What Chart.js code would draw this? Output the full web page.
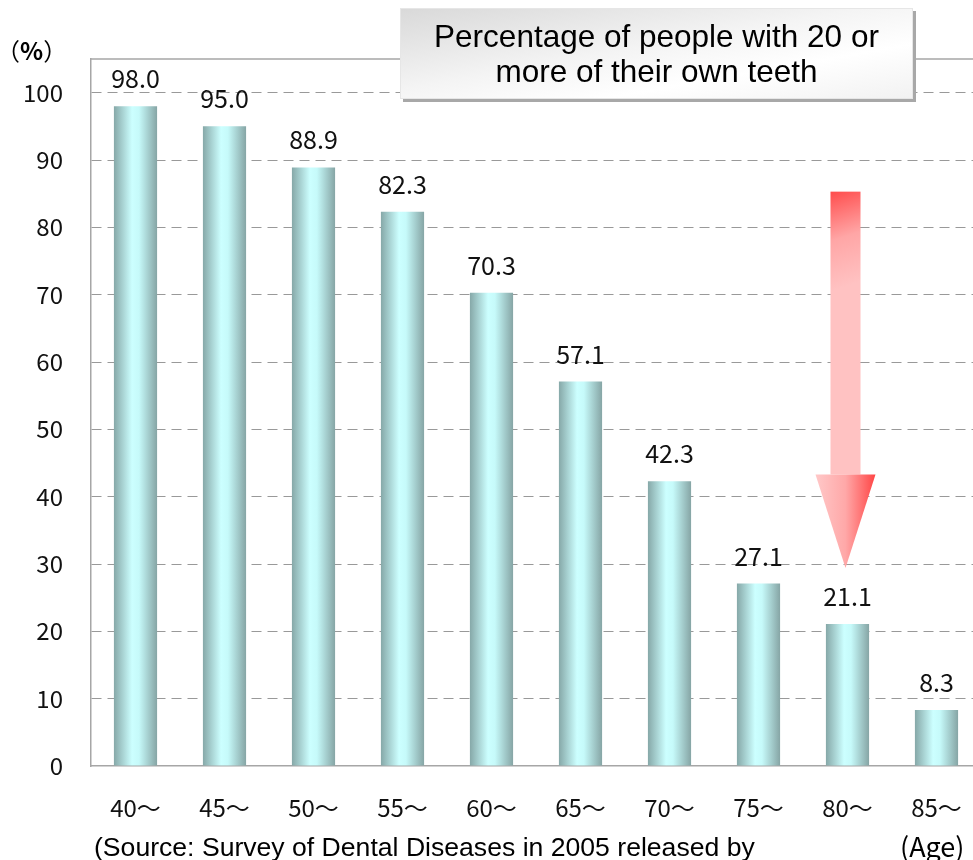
<!DOCTYPE html>
<html lang="en">
<head>
    <meta charset="UTF-8">
    <title>Percentage of people with 20 or more of their own teeth</title>
    <script src="https://cdn.jsdelivr.net/npm/chart.js"></script>
    <style>
        body { margin: 0; background: #fff; overflow: hidden; }
        #wrap { position: relative; width: 973px; height: 860px; overflow: hidden; }
        canvas { position: absolute; left: 0; top: 0; }
        .txt { position: absolute; white-space: nowrap; color: #000; }
        #unit { left: -4px; top: 32px; font: 24px "Noto Sans CJK JP", sans-serif; }
        #age { left: 900px; top: 826px; font: 27px "Noto Sans CJK JP", sans-serif; }
        #source { left: 94px; top: 832px; font: 26.6px "Liberation Sans", Arial, sans-serif; }
        #titleBox {
            position: absolute; left: 400px; top: 8px; width: 513px; height: 91px;
            background: linear-gradient(170deg, #d9d9d9 0%, #f4f4f4 45%, #ffffff 70%, #f2f2f2 100%);
            box-shadow: 3px 3px 0 #a8a8a8;
            border: 1px solid #e6e6e6;
            font: 31.5px "Liberation Sans", Arial, sans-serif; color: #000;
            text-align: center; line-height: 35px; padding-top: 10px; box-sizing: border-box;
        }
    </style>
</head>
<body>
<div id="wrap">
    <canvas id="teethChart" width="990" height="860"></canvas>
    <div id="titleBox">Percentage of people with 20 or<br>more of their own teeth</div>
    <div class="txt" id="unit">（<b>%</b>）</div>
    <div class="txt" id="age">(Age)</div>
    <div class="txt" id="source">(Source: Survey of Dental Diseases in 2005 released by</div>
</div>

<script>
    // age groups and share of people keeping 20+ teeth (%)
    const ageGroups = ['40〜', '45〜', '50〜', '55〜', '60〜', '65〜', '70〜', '75〜', '80〜', '85〜'];
    const teethPct = [98.0, 95.0, 88.9, 82.3, 70.3, 57.1, 42.3, 27.1, 21.1, 8.3];
    const yTicks = [0, 10, 20, 30, 40, 50, 60, 70, 80, 90, 100];
    // red arrow pointing at the 80〜 group (values on the y scale)
    const arrowGroup = 8;
    const arrowTop = 85.3, arrowHead = 43.3, arrowTip = 29.4;

    const numFont = '"Noto Sans CJK JP", "Noto Sans", sans-serif';
    const BAR_PCT = 0.485;

    function barGradient(c) {
        const chart = c.chart;
        const xs = chart.scales.x;
        if (!xs || !chart.chartArea) return '#b0dede';
        const cx = xs.getPixelForValue(c.dataIndex);
        const w = xs.width / ageGroups.length * BAR_PCT;
        const g = chart.ctx.createLinearGradient(cx - w / 2, 0, cx + w / 2, 0);
        g.addColorStop(0, '#86a8a8');
        g.addColorStop(0.42, '#ccffff');
        g.addColorStop(0.58, '#c6fafa');
        g.addColorStop(1, '#86a5a5');
        return g;
    }

    const extras = {
        id: 'extras',
        afterDatasetsDraw(chart) {
            const ctx = chart.ctx;
            const area = chart.chartArea;
            const xs = chart.scales.x, ys = chart.scales.y;

            // top border of plot area
            ctx.save();
            ctx.strokeStyle = '#a6a6a6';
            ctx.lineWidth = 1.5;
            ctx.beginPath();
            ctx.moveTo(area.left, area.top);
            ctx.lineTo(area.right, area.top);
            ctx.stroke();

            // value labels
            ctx.fillStyle = '#111';
            ctx.font = '25px ' + numFont;
            ctx.textAlign = 'center';
            ctx.textBaseline = 'alphabetic';
            chart.getDatasetMeta(0).data.forEach((bar, i) => {
                ctx.fillText(teethPct[i].toFixed(1), bar.x, bar.y - 18);
            });

            // arrow
            const cx = xs.getPixelForValue(arrowGroup) - 2;
            const yT = ys.getPixelForValue(arrowTop);
            const yH = ys.getPixelForValue(arrowHead);
            const yP = ys.getPixelForValue(arrowTip);
            const sw = 15, hw = 30;
            let g = ctx.createLinearGradient(cx - sw, yT, cx + sw, yT + 90);
            g.addColorStop(0, '#ff4d4d');
            g.addColorStop(0.5, '#ffa6a6');
            g.addColorStop(1, '#ffc2c2');
            ctx.fillStyle = g;
            ctx.fillRect(cx - sw, yT, sw * 2, yH - yT);
            g = ctx.createLinearGradient(cx - hw, yH, cx + hw, yH);
            g.addColorStop(0, '#ffc8c8');
            g.addColorStop(0.5, '#ffa8a8');
            g.addColorStop(1, '#ff4545');
            ctx.fillStyle = g;
            ctx.beginPath();
            ctx.moveTo(cx - hw, yH);
            ctx.lineTo(cx + hw, yH);
            ctx.lineTo(cx, yP);
            ctx.closePath();
            ctx.fill();
            ctx.restore();
        }
    };

    new Chart(document.getElementById('teethChart'), {
        type: 'bar',
        data: {
            labels: ageGroups,
            datasets: [{
                data: teethPct,
                backgroundColor: barGradient,
                borderWidth: 0,
                categoryPercentage: 1,
                barPercentage: BAR_PCT
            }]
        },
        options: {
            responsive: false,
            animation: false,
            layout: { padding: { left: 0, top: 59, right: 9, bottom: 34 } },
            plugins: { legend: { display: false }, tooltip: { enabled: false } },
            scales: {
                x: {
                    afterFit: s => { s.height = 60; },
                    grid: { display: false, drawTicks: false },
                    border: { display: true, color: '#a6a6a6', width: 1.5 },
                    ticks: { color: '#111', padding: 27, font: { family: numFont, size: 24 } }
                },
                y: {
                    min: 0,
                    max: 105,
                    afterFit: s => { s.width = 91; },
                    afterBuildTicks: s => { s.ticks = yTicks.map(v => ({ value: v })); },
                    grid: {
                        drawTicks: false,
                        color: c => (c.tick && c.tick.value === 0 ? 'rgba(0,0,0,0)' : '#999999'),
                        lineWidth: 1
                    },
                    border: { display: true, color: '#a6a6a6', width: 1.5, dash: [10, 6], dashOffset: 0 },
                    ticks: { color: '#111', padding: 28, font: { family: numFont, size: 24 } }
                }
            }
        },
        plugins: [extras]
    });
</script>
</body>
</html>
